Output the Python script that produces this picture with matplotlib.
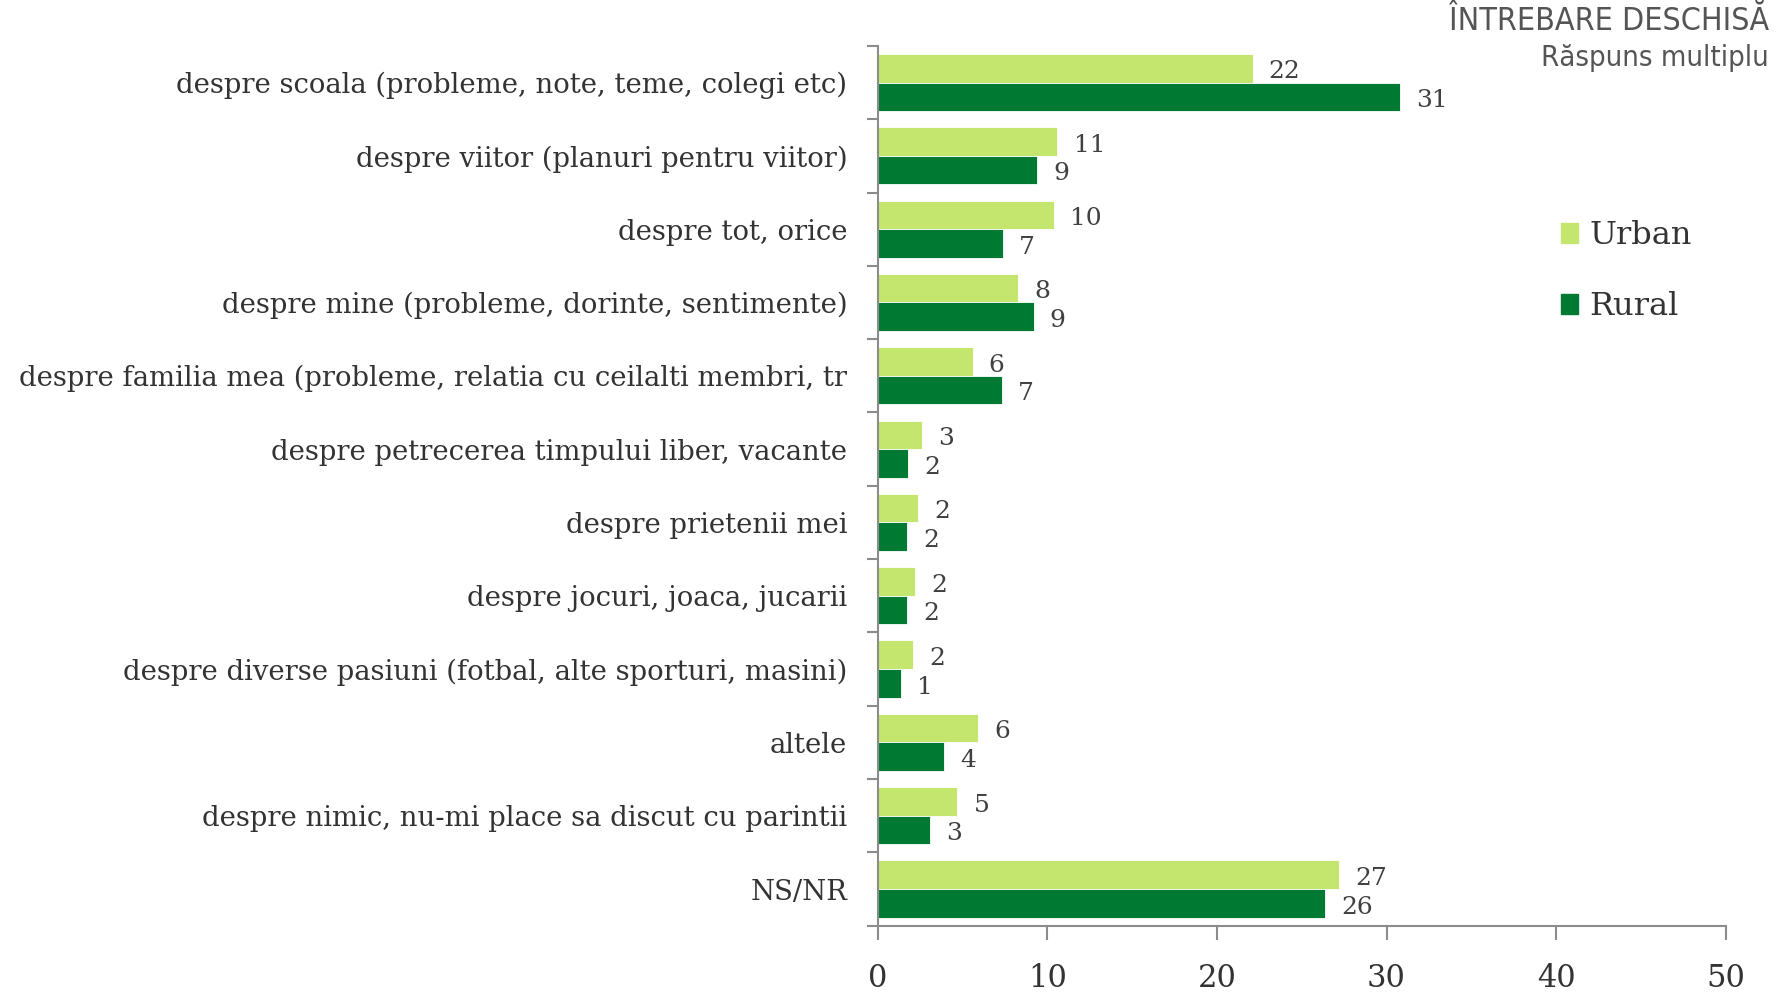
import matplotlib
matplotlib.use('Agg')
import matplotlib.pyplot as plt
from matplotlib.patches import Patch
import numpy as np

plt.rcParams['font.family'] = ['DejaVu Serif']

# date
categorii = [
    'despre scoala (probleme, note, teme, colegi etc)',
    'despre viitor (planuri pentru viitor)',
    'despre tot, orice',
    'despre mine (probleme, dorinte, sentimente)',
    'despre familia mea (probleme, relatia cu ceilalti membri, tr',
    'despre petrecerea timpului liber, vacante',
    'despre prietenii mei',
    'despre jocuri, joaca, jucarii',
    'despre diverse pasiuni (fotbal, alte sporturi, masini)',
    'altele',
    'despre nimic, nu-mi place sa discut cu parintii',
    'NS/NR',
]
urban = [22.1, 10.6, 10.4, 8.3, 5.6, 2.6, 2.4, 2.2, 2.1, 5.9, 4.7, 27.2]
rural = [30.8, 9.4, 7.4, 9.2, 7.3, 1.8, 1.75, 1.75, 1.35, 3.9, 3.1, 26.4]

col_urban = '#c5e66e'
col_rural = '#007a33'
gri = '#8c8c8c'

fig = plt.figure(figsize=(17.92, 9.97), dpi=100)
ax = fig.add_axes([0.4898, 0.0715, 0.4732, 0.8825])

y = np.arange(len(categorii))
h = 0.39
b1 = ax.barh(y - h / 2, urban, height=h, color=col_urban, edgecolor='white', linewidth=0.6)
b2 = ax.barh(y + h / 2, rural, height=h, color=col_rural, edgecolor='white', linewidth=0.6)

for bars, vals in ((b1, urban), (b2, rural)):
    for r, v in zip(bars, vals):
        ax.text(r.get_width() + 0.95, r.get_y() + r.get_height() / 2 + 0.05, '%.0f' % v,
                va='center', ha='left', fontsize=18, color='#404040')

ax.set_xlim(0, 50)
ax.set_ylim(len(categorii) - 0.5, -0.5)
ax.set_xticks(range(0, 51, 10))
ax.set_yticks(y)
ax.set_yticklabels(categorii, fontsize=19.8, color='#333333')
ax.set_yticks(np.arange(-0.5, len(categorii), 1), minor=True)
ax.tick_params(axis='y', which='major', length=0, pad=22)
ax.tick_params(axis='y', which='minor', length=8, color=gri, width=1.5)
ax.tick_params(axis='x', length=10, color=gri, width=1.5, labelsize=22, pad=17, labelcolor='#333333')

for s in ('top', 'right'):
    ax.spines[s].set_visible(False)
for s in ('left', 'bottom'):
    ax.spines[s].set_color(gri)
    ax.spines[s].set_linewidth(1.5)

handles = [Patch(color=col_urban, label='Urban'), Patch(color=col_rural, label='Rural')]
fig.legend(handles=handles, loc='upper left', bbox_to_anchor=(0.855, 0.808), frameon=False,
           fontsize=23, labelspacing=1.25, handlelength=0.55, handleheight=0.6, handletextpad=0.35,
           labelcolor='#333333')

fig.text(0.987, 0.978, 'ÎNTREBARE DESCHISĂ', ha='right', va='center', fontsize=23,
         color='#555555', family='DejaVu Sans', fontstretch='condensed')
fig.text(0.987, 0.942, 'Răspuns multiplu', ha='right', va='center', fontsize=21,
         color='#555555', family='DejaVu Sans', fontstretch='condensed')

fig.savefig('out.png', dpi=100, facecolor='white')
